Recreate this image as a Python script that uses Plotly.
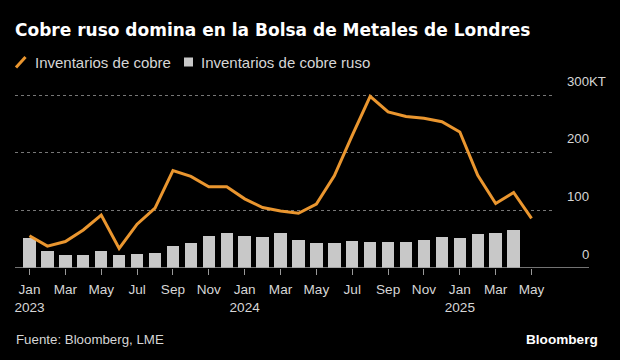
import plotly.graph_objects as go

# ---------------- data ----------------
months = ["Jan 2023", "Feb 2023", "Mar 2023", "Apr 2023", "May 2023", "Jun 2023",
          "Jul 2023", "Aug 2023", "Sep 2023", "Oct 2023", "Nov 2023", "Dec 2023",
          "Jan 2024", "Feb 2024", "Mar 2024", "Apr 2024", "May 2024", "Jun 2024",
          "Jul 2024", "Aug 2024", "Sep 2024", "Oct 2024", "Nov 2024", "Dec 2024",
          "Jan 2025", "Feb 2025", "Mar 2025", "Apr 2025", "May 2025"]
inventarios_cobre = [56, 38, 46, 66, 92, 34, 76, 104, 169, 159, 141, 141,
                     120, 105, 99, 95, 111, 160, 230, 298, 271, 263, 260, 254,
                     236, 161, 112, 131, 86]
inventarios_ruso = [52, 30, 22, 23, 30, 23, 24, 26, 39, 43, 56, 60,
                    55, 54, 61, 48, 44, 44, 47, 45, 45, 45, 48, 53,
                    52, 59, 60, 66, None]
x_tick_idx = list(range(0, 29, 2))
x_tick_text = ["Jan<br>2023", "Mar", "May", "Jul", "Sep", "Nov",
               "Jan<br>2024", "Mar", "May", "Jul", "Sep", "Nov",
               "Jan<br>2025", "Mar", "May"]
y_ticks = [0, 100, 200, 300]
y_unit = "KT"
series_names = ["Inventarios de cobre", "Inventarios de cobre ruso"]
title_text = "Cobre ruso domina en la Bolsa de Metales de Londres"
source_text = "Fuente: Bloomberg, LME"

# ---------------- style ----------------
W, H = 620, 360
ML, MR, MT, MB = 15, 67, 94, 92
PW, PH = W - ML - MR, H - MT - MB
ORANGE = "#ea962f"
BARC = "#c8c8c8"
TXT = "#d6d6d6"
FONT = "Liberation Sans, Arial, sans-serif"
px_per_month = 17.93
x0 = -(29.5 - ML) / px_per_month
x_range = [x0, x0 + PW / px_per_month]


def xp(px):
    return (px - ML) / PW


def yp(py):
    return (H - MB - py) / PH


idx = list(range(len(months)))

fig = go.Figure()
fig.add_trace(go.Bar(x=idx, y=inventarios_ruso, name=series_names[1],
                     marker=dict(color=BARC, line=dict(width=0)), width=0.69,
                     hovertext=months))
fig.add_trace(go.Scatter(x=idx, y=inventarios_cobre, name=series_names[0],
                         mode="lines", line=dict(color=ORANGE, width=3),
                         hovertext=months))

annotations = []
# y-axis labels (right-aligned numbers, unit hanging on the top one)
label_x = xp(589)
for v in y_ticks:
    annotations.append(dict(x=label_x, y=v, xref="paper", yref="y", text=str(v),
                            xanchor="right", yanchor="middle", yshift=14, xshift=2,
                            showarrow=False, font=dict(family=FONT, size=13.2, color=TXT)))
annotations.append(dict(x=label_x, y=y_ticks[-1], xref="paper", yref="y", text=y_unit,
                        xanchor="left", yanchor="middle", yshift=14, xshift=-2,
                        showarrow=False, font=dict(family=FONT, size=13.2, color=TXT)))
# legend texts
annotations.append(dict(x=xp(33), y=yp(62), xref="paper", yref="paper", text=series_names[0],
                        xanchor="left", yanchor="middle", showarrow=False,
                        font=dict(family=FONT, size=15, color=TXT)))
annotations.append(dict(x=xp(199), y=yp(62), xref="paper", yref="paper", text=series_names[1],
                        xanchor="left", yanchor="middle", showarrow=False,
                        font=dict(family=FONT, size=15, color=TXT)))
# footer
annotations.append(dict(x=xp(14), y=yp(339), xref="paper", yref="paper", text=source_text,
                        xanchor="left", yanchor="middle", showarrow=False,
                        font=dict(family=FONT, size=13.3, color=TXT)))
annotations.append(dict(x=xp(600), y=yp(339), xref="paper", yref="paper", text="<b>Bloomberg</b>",
                        xanchor="right", yanchor="middle", showarrow=False,
                        font=dict(family=FONT, size=13.6, color="#ffffff")))

shapes = [
    # baseline
    dict(type="line", xref="paper", yref="y", x0=0, x1=xp(589), y0=0, y1=0,
         line=dict(color="#9a9a9a", width=1.5), layer="above"),
    # legend icons
    dict(type="line", xref="paper", yref="paper", x0=xp(16), y0=yp(67.5), x1=xp(25.5), y1=yp(57),
         line=dict(color=ORANGE, width=3)),
    dict(type="rect", xref="paper", yref="paper", x0=xp(184), x1=xp(193), y0=yp(66.5), y1=yp(57.5),
         fillcolor=BARC, line=dict(width=0)),
]

fig.update_layout(
    width=W, height=H,
    margin=dict(l=ML, r=MR, t=MT, b=MB, pad=0),
    paper_bgcolor="#000000", plot_bgcolor="#000000",
    showlegend=False,
    bargap=0,
    title=dict(text="<b>" + title_text + "</b>", x=15 / W, xref="container", xanchor="left",
               y=1 - 30.5 / H, yref="container", yanchor="middle",
               font=dict(family="DejaVu Sans", size=17, color="#ffffff")),
    font=dict(family=FONT, color=TXT),
    xaxis=dict(range=x_range, tickmode="array", tickvals=x_tick_idx, ticktext=x_tick_text,
               ticks="outside", ticklen=6, tickcolor="#9a9a9a", tickwidth=1,
               ticklabelstandoff=3,
               showgrid=False, zeroline=False, showline=False,
               tickfont=dict(family=FONT, size=13.6, color=TXT)),
    yaxis=dict(range=[0, 302], tickmode="array", tickvals=y_ticks, showticklabels=False,
               showgrid=True, gridcolor="#777777", griddash="dot", gridwidth=1,
               zeroline=False, showline=False, ticks=""),
    annotations=annotations,
    shapes=shapes,
)

fig.write_html("out.html", config={"displayModeBar": False},
               post_script="document.body.style.margin='0';document.body.style.background='#000';")
